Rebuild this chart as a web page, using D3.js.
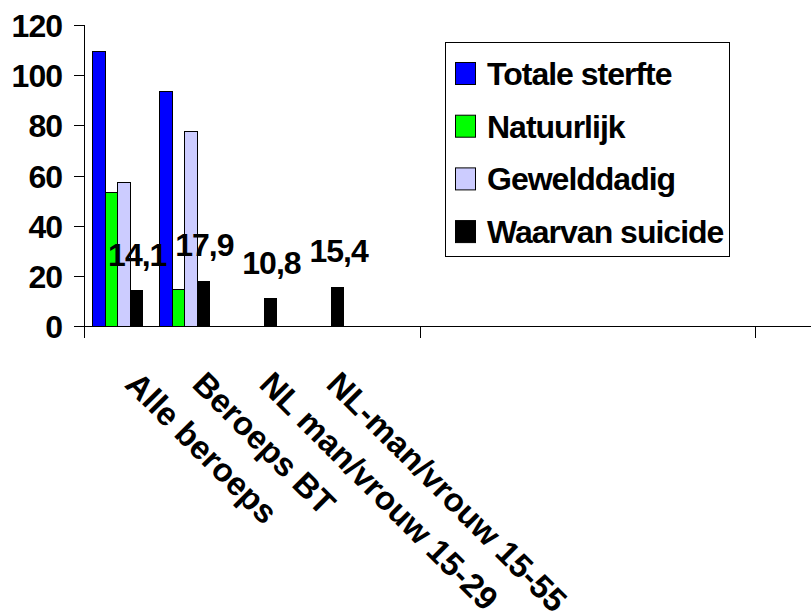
<!DOCTYPE html>
<html>
<head>
<meta charset="utf-8">
<script src="https://cdn.jsdelivr.net/npm/d3@7"></script>
<style>
  body { margin: 0; background: #fff; }
  svg { display: block; }
  text { font-family: "Liberation Sans", Arial, sans-serif; font-weight: bold; font-size: 32px; letter-spacing: -1px; fill: #000; }
  text.cat { font-size: 33px; letter-spacing: 0; }
</style>
</head>
<body>
<svg id="chart" width="811" height="612"></svg>
<script>
// Mortality per group, four series
const categories = ["Alle beroeps", "Beroeps BT", "NL man/vrouw 15-29", "NL-man/vrouw 15-55"];
const seriesNames = ["Totale sterfte", "Natuurlijk", "Gewelddadig", "Waarvan suicide"];
const totaleSterfte = [109.6, 93.4, null, null];
const natuurlijk = [53.1, 14.4, null, null];
const gewelddadig = [57.3, 77.7, null, null];
const waarvanSuicide = [14.1, 17.9, 10.8, 15.4];
const seriesColors = ["#0000FF", "#00FF00", "#CCCCFF", "#000000"];
const yTicks = [0, 20, 40, 60, 80, 100, 120];
const xTickEvery = [0, 5, 10];

const seriesValues = [totaleSterfte, natuurlijk, gewelddadig, waarvanSuicide];
const labelledSeries = 3; // only the suicide bars carry value labels
const fmt = v => v.toFixed(1).replace(".", ",");

const svg = d3.select("#chart");
const W = +svg.attr("width");

// category index -> left edge of its slot
const x = d3.scaleLinear().domain([0, 5]).range([84, 419.5]);
const slot = x(1) - x(0);
const inner = d3.scaleBand().domain(d3.range(seriesNames.length)).range([0, slot])
  .paddingInner(0).paddingOuter(0.69);
const y = d3.scaleLinear().domain([0, 120]).range([326, 25]);

// bars
const rows = [];
seriesValues.forEach((vals, s) => vals.forEach((v, c) => {
  if (v != null) rows.push({ s, c, v });
}));

svg.append("g").selectAll("rect").data(rows).join("rect")
  .attr("x", d => x(d.c) + inner(d.s))
  .attr("y", d => y(d.v))
  .attr("width", inner.bandwidth())
  .attr("height", d => y(0) - y(d.v))
  .attr("fill", d => seriesColors[d.s])
  .attr("stroke", "#000")
  .attr("stroke-width", 1)
  .attr("shape-rendering", "crispEdges");

// value labels
svg.append("g").selectAll("text").data(rows.filter(d => d.s === labelledSeries)).join("text")
  .attr("x", d => x(d.c) + inner(d.s) + inner.bandwidth() / 2 + 1)
  .attr("y", d => y(d.v) - 25)
  .attr("text-anchor", "middle")
  .text(d => fmt(d.v));

// y axis
const yAxis = svg.append("g").attr("transform", `translate(${x(0)},0)`)
  .call(d3.axisLeft(y).tickValues(yTicks).tickSize(10).tickSizeOuter(0).tickPadding(12));
yAxis.select(".domain").remove();
yAxis.selectAll("line").attr("stroke", "#000").attr("shape-rendering", "crispEdges");
yAxis.selectAll("text").attr("font-size", null).attr("font-family", null)
  .attr("dy", "0.36em");
svg.append("line").attr("x1", x(0)).attr("x2", x(0)).attr("y1", y(120)).attr("y2", y(0))
  .attr("stroke", "#000").attr("shape-rendering", "crispEdges");

// x axis
const xAxis = svg.append("g").attr("transform", `translate(0,${y(0)})`)
  .call(d3.axisBottom(x).tickValues(xTickEvery).tickSize(12).tickFormat(""));
xAxis.select(".domain").remove();
xAxis.selectAll("line").attr("stroke", "#000").attr("shape-rendering", "crispEdges");
svg.append("line").attr("x1", x(0) - 10).attr("x2", W).attr("y1", y(0)).attr("y2", y(0))
  .attr("stroke", "#000").attr("shape-rendering", "crispEdges");

// category labels, slanted down to the right
svg.append("g").selectAll("text").data(categories).join("text")
  .attr("class", "cat")
  .attr("transform", (d, i) => `translate(${x(i) + slot / 2 + 6},386) rotate(45)`)
  .attr("text-anchor", "start")
  .text(d => d);

// legend
const legend = svg.append("g");
legend.append("rect").attr("x", 445.5).attr("y", 42.5).attr("width", 284).attr("height", 214)
  .attr("fill", "#fff").attr("stroke", "#000").attr("stroke-width", 1);
const item = legend.selectAll("g.item").data(seriesNames).join("g").attr("class", "item")
  .attr("transform", (d, i) => `translate(455,${85 + i * 52.7})`);
item.append("rect").attr("x", 0.5).attr("y", -22.5).attr("width", 20).attr("height", 22)
  .attr("fill", (d, i) => seriesColors[i]).attr("stroke", "#000").attr("stroke-width", 1);
item.append("text").attr("x", 32).attr("y", 0).text(d => d);
</script>
</body>
</html>
